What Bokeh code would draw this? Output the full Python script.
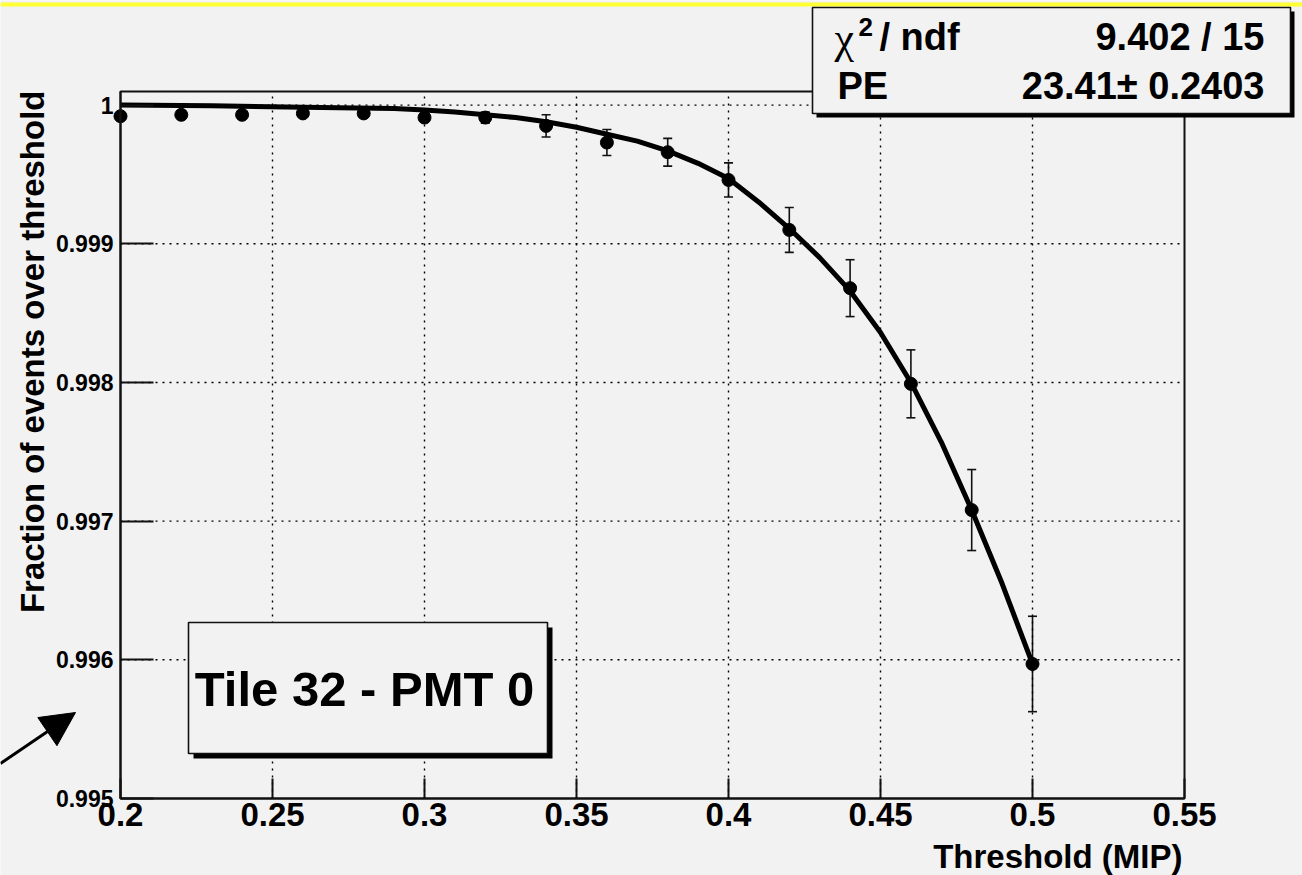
import math

from bokeh.plotting import figure
from bokeh.models import (Range1d, FixedTicker, Label, BoxAnnotation, Arrow, Grid,
                          NormalHead, Whisker, ColumnDataSource, TeeHead, LinearAxis)
from bokeh.embed import file_html
from bokeh.resources import INLINE

# Measured fraction of events above threshold, per threshold (MIP)
threshold = [0.20, 0.22, 0.24, 0.26, 0.28, 0.30, 0.32, 0.34,
             0.36, 0.38, 0.40, 0.42, 0.44, 0.46, 0.48, 0.50]
fraction = [0.99992, 0.99993, 0.99993, 0.99994, 0.99994, 0.99991, 0.99991, 0.99985,
            0.99973, 0.99966, 0.99946, 0.99910, 0.99868, 0.99799, 0.99708, 0.99597]
fraction_err = [0.00002, 0.00002, 0.00002, 0.00002, 0.00002, 0.00003, 0.00004, 0.00008,
                0.000094, 0.00010, 0.000123, 0.000162, 0.000205, 0.000245, 0.000292, 0.000344]

# Poisson photo-electron fit curve
fit_x = [0.20, 0.23, 0.26, 0.29, 0.30, 0.31, 0.32, 0.33, 0.34, 0.35, 0.36, 0.37,
         0.38, 0.39, 0.40, 0.41, 0.42, 0.43, 0.44, 0.45, 0.46, 0.47, 0.48, 0.49, 0.50]
fit_y = [1.000000, 0.999995, 0.999985, 0.999975, 0.999965, 0.99995, 0.99993, 0.99991,
         0.99988, 0.99984, 0.99979, 0.99974, 0.99967, 0.99958, 0.99947, 0.99930,
         0.99911, 0.99890, 0.99866, 0.99836, 0.99800, 0.99757, 0.99708, 0.99655, 0.99597]

# Axis ticks and their labels
x_ticks = [0.20, 0.25, 0.30, 0.35, 0.40, 0.45, 0.50, 0.55]
x_tick_labels = ["0.2", "0.25", "0.3", "0.35", "0.4", "0.45", "0.5", "0.55"]
y_ticks = [0.995, 0.996, 0.997, 0.998, 0.999, 1.0]
y_tick_labels = ["0.995", "0.996", "0.997", "0.998", "0.999", "1"]

# Fit statistics and titles
chi2_text = "9.402 / 15"
pe_text = "23.41\u00b1 0.2403"
tile_text = "Tile 32 - PMT 0"
x_title = "Threshold (MIP)"
y_title = "Fraction of events over threshold"

# axis extent of the plotting box
X_LO, X_HI = 0.2, 0.55
Y_LO, Y_HI = 0.995, 1.000098

BG = "#f2f2f2"
INK = "#000000"
EDGE = "#111111"
FONT = "Liberation Sans"

# canvas and the pixel box the axes occupy
W, H = 1302, 875
LEFT, RIGHT, TOP, BOTTOM = 120, 1184, 91, 798

# extend the data ranges so the plotting box lands on the pixel box above
dx = (X_HI - X_LO) / (RIGHT - LEFT)
dy = (Y_HI - Y_LO) / (BOTTOM - TOP)
x_range = Range1d(X_LO - LEFT * dx, X_HI + (W - RIGHT) * dx)
y_range = Range1d(Y_LO - (H - BOTTOM) * dy, Y_HI + TOP * dy)

p = figure(width=W, height=H, output_backend="svg", toolbar_location=None,
           x_range=x_range, y_range=y_range,
           x_axis_location=None, y_axis_location=None, min_border=0)
p.background_fill_color = BG
p.border_fill_color = BG
p.outline_line_color = None
for r in p.center:
    if isinstance(r, Grid):
        r.visible = False

# pixel coordinate ranges for decorations (y measured from the top)
p.extra_x_ranges = {"px": Range1d(0, W)}
p.extra_y_ranges = {"py": Range1d(H, 0)}
PX = dict(x_range_name="px", y_range_name="py")

xaxis = LinearAxis(fixed_location=Y_LO, bounds=(X_LO, X_HI))
yaxis = LinearAxis(fixed_location=X_LO, bounds=(Y_LO, Y_HI))
p.add_layout(xaxis, "below")
p.add_layout(yaxis, "left")

for ax, ticks, labels, tin, fsize, stand in (
        (xaxis, x_ticks, x_tick_labels, 20, "33px", 4),
        (yaxis, y_ticks, y_tick_labels, 33, "23px", 7)):
    ax.ticker = FixedTicker(ticks=ticks)
    ax.major_label_overrides = {t: l for t, l in zip(ticks, labels)}
    ax.major_tick_in = tin
    ax.major_tick_out = 0
    ax.major_tick_line_color = EDGE
    ax.major_tick_line_width = 2
    ax.minor_tick_line_color = None
    ax.axis_line_color = EDGE
    ax.axis_line_width = 2
    ax.major_label_text_font = FONT
    ax.major_label_text_font_style = "bold"
    ax.major_label_text_font_size = fsize
    ax.major_label_text_color = INK
    ax.major_label_standoff = stand

# dotted grid inside the plotting box
gx = [t for t in x_ticks if X_LO < t < X_HI]
gy = [t for t in y_ticks if Y_LO < t < Y_HI]
p.segment(x0=gx, x1=gx, y0=[Y_LO] * len(gx), y1=[Y_HI] * len(gx),
          line_color=INK, line_width=1.4, line_dash="2 5")
p.segment(x0=[X_LO] * len(gy), x1=[X_HI] * len(gy), y0=gy, y1=gy,
          line_color=INK, line_width=1.4, line_dash="2 5")

# frame of the plotting box
p.add_layout(BoxAnnotation(left=X_LO, right=X_HI, bottom=Y_LO, top=Y_HI,
                           fill_alpha=0, line_color=EDGE, line_alpha=1, line_width=2))

# fit curve, error bars and points
p.line(fit_x, fit_y, line_color=INK, line_width=5)
err = ColumnDataSource(dict(x=threshold,
                            lo=[f - e for f, e in zip(fraction, fraction_err)],
                            hi=[f + e for f, e in zip(fraction, fraction_err)]))
p.add_layout(Whisker(base="x", lower="lo", upper="hi", source=err,
                     line_color="#111111", line_width=1.6,
                     lower_head=TeeHead(size=9, line_color="#111111", line_width=1.6),
                     upper_head=TeeHead(size=9, line_color="#111111", line_width=1.6)))
p.scatter(threshold, fraction, size=13, color=INK)


def box(l, r, t, b, shadow=5):
    p.add_layout(BoxAnnotation(left=l + shadow, right=r + shadow, top=t + shadow,
                               bottom=b + shadow, fill_color=INK, fill_alpha=1,
                               line_color=None, **PX))
    p.add_layout(BoxAnnotation(left=l, right=r, top=t, bottom=b, fill_color=BG,
                               fill_alpha=1, line_color=EDGE, line_alpha=1,
                               line_width=1.6, **PX))


def text(x, y, s, size, align="left", style="bold", font=FONT, angle=0):
    p.add_layout(Label(x=x, y=y, text=s, text_font=font, text_font_style=style,
                       text_font_size=size, text_align=align, angle=angle,
                       text_baseline="middle", text_color=INK, **PX))


# top strip
p.add_layout(BoxAnnotation(left=0, right=W, top=2, bottom=6, fill_color="#ffff33",
                           fill_alpha=1, line_color=None, **PX))

# statistics box
box(812, 1290, 7, 113, shadow=4)
text(834, 38, "\u03c7", "44px", style="normal", font="Liberation Serif")
text(858, 26, "2", "26px")
text(879, 36, "/ ndf", "38px")
text(1264, 36, chi2_text, "38px", align="right")
text(837, 85, "PE", "38px")
text(1264, 85, pe_text, "38px", align="right")

# channel label box
box(188, 547, 622, 753, shadow=5)
text(364, 688, tile_text, "49px", align="center")

# axis titles
text(1182, 856, x_title, "33px", align="right")
text(32, 90, y_title, "33px", align="right", angle=math.pi / 2)

# pointer arrow
p.add_layout(Arrow(x_start=0, y_start=763, x_end=75, y_end=712,
                   end=NormalHead(size=34, fill_color=INK, line_color=INK, line_width=1),
                   line_color=INK, line_width=3, **PX))

open("out.html", "w").write(file_html(p, INLINE))
